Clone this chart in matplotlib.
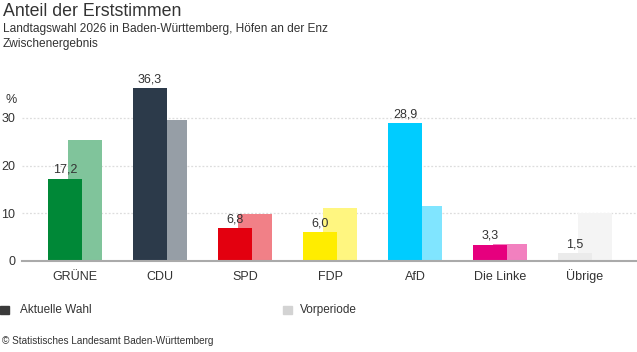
import numpy as np
import matplotlib.pyplot as plt

plt.rcParams['font.family'] = ['Liberation Sans', 'DejaVu Sans']

parties = ["GRÜNE", "CDU", "SPD", "FDP", "AfD", "Die Linke", "Übrige"]
current = [17.2, 36.3, 6.8, 6.0, 28.9, 3.3, 1.5]
previous = [25.3, 29.5, 9.8, 11.0, 11.4, 3.5, 10.1]
col_current = ["#008837", "#2c3a4a", "#e3000f", "#ffed00", "#00ccff", "#e6007e", "#ebebeb"]
col_previous = ["#80c49b", "#969ea6", "#f18087", "#fff680", "#80e5ff", "#f280bf", "#f4f4f4"]
yticks = [0, 10, 20, 30]


def fmt(v):
    return f"{v:.1f}".replace(".", ",")


fig = plt.figure(figsize=(6.37, 3.52), dpi=100)
ax = fig.add_axes([22 / 637, 91.5 / 352, 615 / 637, 38 * 4.75 / 352])

x = np.arange(len(parties))
w = 0.4
off = 10 / 85

# previous period behind, current in front
ax.bar(x + off, previous, w, color=col_previous, zorder=2)
ax.bar(x - off, current, w, color=col_current, zorder=3)
for xi, v in zip(x, current):
    ax.text(xi - off, v + 0.6, fmt(v), ha="center", va="bottom",
            fontsize=9, color="#333333", zorder=4)

ax.set_xlim(-0.624, 6.612)
ax.set_ylim(0, 38)
ax.set_yticks(yticks)
ax.set_yticklabels([str(t) for t in yticks], fontsize=9, color="#333333")
ax.set_xticks(x)
ax.set_xticklabels(parties, fontsize=9, color="#333333")
ax.tick_params(axis="both", length=0)
ax.tick_params(axis="y", pad=5)
ax.tick_params(axis="x", pad=14)
for t in ax.get_yticklabels():
    t.set_horizontalalignment("right")
for t in ax.get_xticklabels():
    t.set_verticalalignment("baseline")

ax.grid(axis="y", color="#dddddd", linestyle=(0, (1.5, 1.5)), linewidth=0.9, zorder=0)
for s in ["top", "right", "left"]:
    ax.spines[s].set_visible(False)
ax.spines["bottom"].set_color("#aaaaaa")
ax.spines["bottom"].set_linewidth(1.5)
ax.spines["bottom"].set_zorder(5)

fig.text(5 / 637, 1 - 100 / 352, "%", fontsize=9, color="#333333", va="center")

# titles
fig.text(3 / 637, 1 - 12 / 352, "Anteil der Erststimmen", fontsize=12.8,
         color="#333333", va="center")
fig.text(3 / 637, 1 - 29 / 352,
         "Landtagswahl 2026 in Baden-Württemberg, Höfen an der Enz",
         fontsize=8.6, color="#333333", va="center")
fig.text(3 / 637, 1 - 44 / 352, "Zwischenergebnis", fontsize=8.6,
         color="#333333", va="center")

# legend
fig.patches.append(plt.Rectangle((0, 1 - 314 / 352), 9 / 637, 8 / 352,
                                 transform=fig.transFigure, color="#3a3a3a"))
fig.text(20 / 637, 1 - 310 / 352, "Aktuelle Wahl", fontsize=8.5,
         color="#333333", va="center")
fig.patches.append(plt.Rectangle((283 / 637, 1 - 314 / 352), 9 / 637, 8 / 352,
                                 transform=fig.transFigure, color="#d3d3d3"))
fig.text(300 / 637, 1 - 310 / 352, "Vorperiode", fontsize=8.5,
         color="#333333", va="center")

fig.text(2 / 637, 1 - 341 / 352, "© Statistisches Landesamt Baden-Württemberg",
         fontsize=7.2, color="#333333", va="center")

fig.savefig("out.png", dpi=100)
